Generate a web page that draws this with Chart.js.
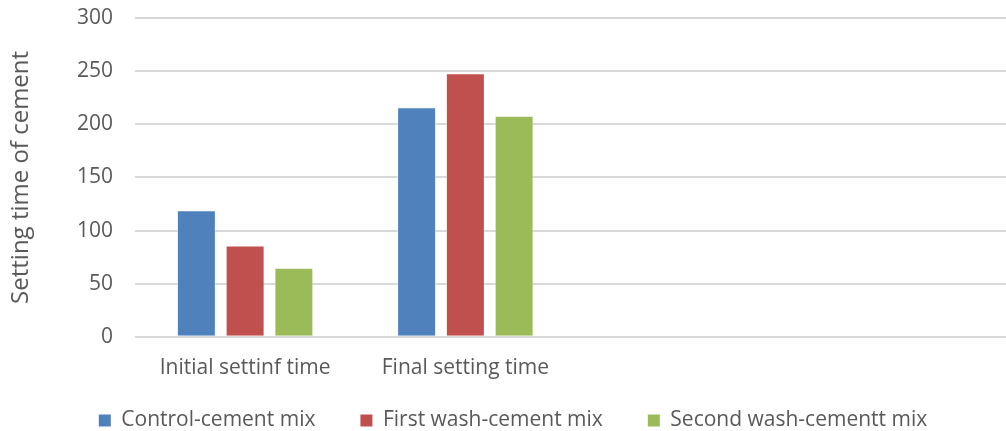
<!DOCTYPE html>
<html>
<head>
<meta charset="utf-8">
<script src="https://cdn.jsdelivr.net/npm/chart.js@4/dist/chart.umd.min.js"></script>
<style>
  html, body { margin: 0; padding: 0; background: #fff; overflow: hidden; }
  #wrap { width: 1016px; height: 457px; position: relative; }
</style>
</head>
<body>
<div id="wrap"><canvas id="c"></canvas></div>
<script>
// Setting time of cement for each mix
const categories = ["Initial settinf time", "Final setting time", "", ""];
const controlMix = [119, 216, null, null];
const firstWashMix = [86, 248, null, null];
const secondWashMix = [65, 208, null, null];
const seriesNames = ["Control-cement mix", "First wash-cement mix", "Second wash-cementt mix"];
const yTicks = [0, 50, 100, 150, 200, 250, 300];

const FONT = "'Open Sans', sans-serif";
const TEXT = "#595959";
const CLEAR = "rgba(0,0,0,0)";
const EDGE = "rgba(255,255,255,0.4)";

// Pull the legend row up closer to the category labels and nudge it right
const legendPlacement = {
  id: "legendPlacement",
  afterLayout(chart) {
    const l = chart.legend;
    if (!l) return;
    l.top -= 16; l.bottom -= 16;
    l.left += 5; l.right += 5;
  }
};

new Chart(document.getElementById("c"), {
  type: "bar",
  data: {
    labels: categories,
    datasets: [
      { label: seriesNames[0], data: controlMix, backgroundColor: "#4f81bd", borderColor: EDGE, borderWidth: 1 },
      { label: seriesNames[1], data: firstWashMix, backgroundColor: "#c0504d", borderColor: EDGE, borderWidth: 1 },
      { label: seriesNames[2], data: secondWashMix, backgroundColor: "#9bbb59", borderColor: EDGE, borderWidth: 1 }
    ]
  },
  plugins: [legendPlacement],
  options: {
    responsive: true,
    maintainAspectRatio: false,
    animation: false,
    categoryPercentage: 0.664,
    barPercentage: 0.8,
    layout: { padding: { top: 18, left: 0, right: 0, bottom: 0 } },
    plugins: {
      legend: {
        position: "bottom",
        labels: {
          color: TEXT,
          font: { family: FONT, size: 21 },
          boxWidth: 12,
          boxHeight: 12,
          padding: 45,
          generateLabels: (chart) => Chart.defaults.plugins.legend.labels.generateLabels(chart)
            .map(item => Object.assign(item, { lineWidth: 0 }))
        }
      },
      tooltip: { enabled: false }
    },
    scales: {
      x: {
        grid: { display: true, color: CLEAR, drawTicks: true, tickLength: 19, tickColor: CLEAR },
        border: { display: false },
        ticks: { color: TEXT, font: { family: FONT, size: 21 }, padding: 0 }
      },
      y: {
        min: 0,
        max: 300,
        afterBuildTicks: (scale) => { scale.ticks = yTicks.map(v => ({ value: v })); },
        afterFit: (scale) => { scale.width = 135; },
        grid: { color: "#d9d9d9", lineWidth: 2, drawTicks: true, tickLength: 22, tickColor: CLEAR },
        border: { display: false },
        ticks: { color: TEXT, font: { family: FONT, size: 21 }, padding: 0 },
        title: {
          display: true,
          text: "Setting time of cement",
          color: TEXT,
          font: { family: FONT, size: 24 },
          padding: { top: 7, bottom: 0 }
        }
      }
    }
  }
});
</script>
</body>
</html>
